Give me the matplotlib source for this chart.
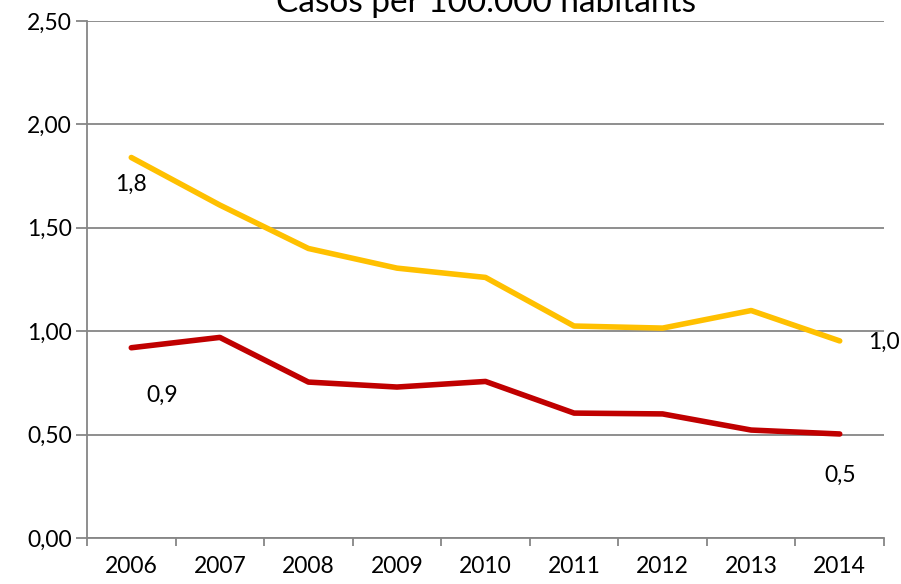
import matplotlib.pyplot as plt
import numpy as np

years = ['2006', '2007', '2008', '2009', '2010', '2011', '2012', '2013', '2014']
yellow = [1.84, 1.61, 1.40, 1.305, 1.26, 1.025, 1.015, 1.10, 0.953]
red = [0.92, 0.97, 0.754, 0.73, 0.757, 0.604, 0.60, 0.522, 0.503]
yticks = [0.0, 0.5, 1.0, 1.5, 2.0, 2.5]

plt.rcParams['font.family'] = ['Lato', 'DejaVu Sans']

fig = plt.figure(figsize=(9.01, 5.84), dpi=100)
ax = fig.add_axes([87 / 901, 46 / 584, (884 - 87) / 901, (538 - 21) / 584])

x = np.arange(len(years))
ax.plot(x, yellow, color='#FFC000', lw=4, solid_capstyle='round', zorder=3)
ax.plot(x, red, color='#C00000', lw=4, solid_capstyle='round', zorder=3)

ax.set_xlim(-0.5, len(years) - 0.5)
ax.set_ylim(0, 2.5)
ax.set_yticks(yticks)
ax.set_yticklabels([f'{v:.2f}'.replace('.', ',') for v in yticks], fontsize=16.5)
ax.set_xticks(x)
ax.set_xticklabels(years, fontsize=16.5)
ax.set_xticks(np.arange(len(years) + 1) - 0.5, minor=True)
ax.tick_params(axis='x', which='major', length=0, pad=13)
ax.tick_params(axis='x', which='minor', length=6, color='#868686', width=1.3)
ax.tick_params(axis='y', length=8, color='#868686', width=1.3, pad=3)

ax.grid(axis='y', color='#868686', lw=1.3)
ax.set_axisbelow(True)
for s in ['top', 'right']:
    ax.spines[s].set_visible(False)
for s in ['left', 'bottom']:
    ax.spines[s].set_color('#868686')
    ax.spines[s].set_linewidth(1.3)

# data labels
ax.text(0, yellow[0] - 0.13, '1,8', fontsize=16.5, ha='center', va='center')
ax.text(0.35, red[0] - 0.23, '0,9', fontsize=16.5, ha='center', va='center')
ax.text(8.5, yellow[-1] - 0.005, '1,0', fontsize=16.5, ha='center', va='center', clip_on=False)
ax.text(8.0, red[-1] - 0.2, '0,5', fontsize=16.5, ha='center', va='center')

fig.text(486 / 901, 1 - 12 / 584, 'Casos per 100.000 habitants', fontsize=24,
         ha='center', va='baseline')

fig.savefig('out.png', dpi=100)
